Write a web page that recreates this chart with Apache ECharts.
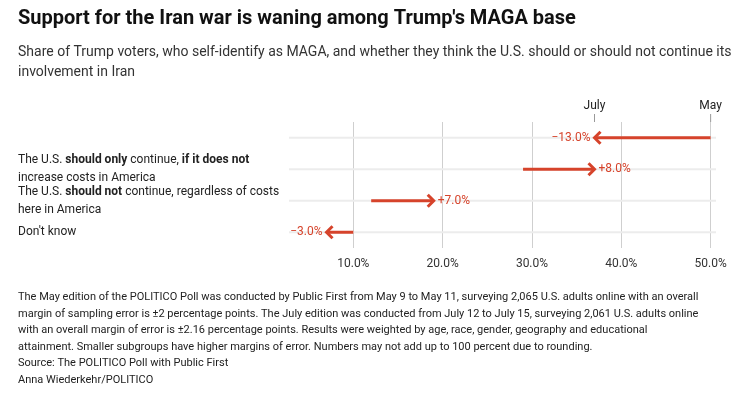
<!DOCTYPE html>
<html>
<head>
<meta charset="utf-8">
<script src="https://cdn.jsdelivr.net/npm/echarts@6/dist/echarts.min.js"></script>
<style>
  html, body { margin: 0; padding: 0; background: #fff; }
  #chart { width: 749px; height: 401px; }
</style>
</head>
<body>
<div id="chart"></div>
<script>
// rows, top to bottom
var categories = [
  '{n|The U.S. }{b|should}{n| continue, }{b|even if}{n| it increases}\n{n|costs in America}',
  '{n|The U.S. }{b|should only}{n| continue, }{b|if it does not}\n{n|increase costs in America}',
  '{n|The U.S. }{b|should not}{n| continue, regardless of costs}\n{n|here in America}',
  "{n|Don't know}"
];
var mayValues = [50, 29, 12, 10];
var julyValues = [37, 37, 19, 7];
var changeLabels = ['\u221213.0%', '+8.0%', '+7.0%', '\u22123.0%'];
var tickValues = [10, 20, 30, 40, 50];
var markerValues = [37, 50];
var markerLabels = ['July', 'May'];

var red = '#d6432b';
var font = 'Roboto, "Noto Sans", sans-serif';

var arrowData = categories.map(function (c, i) {
  return [mayValues[i], i, julyValues[i]];
});
var markerData = markerValues.map(function (v) { return [v, 0]; });

function renderArrow(params, api) {
  var row = api.value(1);
  var p0 = api.coord([api.value(0), row]);
  var p1 = api.coord([api.value(2), row]);
  var dir = p1[0] > p0[0] ? 1 : -1;
  var left = api.coord([2.8, row]);
  var right = api.coord([50.6, row]);
  var h = 6;
  return {
    type: 'group',
    children: [
      { type: 'line', shape: { x1: left[0], y1: p0[1], x2: right[0], y2: p0[1] },
        style: { stroke: '#ececec', lineWidth: 2 }, z2: 1 },
      { type: 'line', shape: { x1: p0[0], y1: p0[1], x2: p1[0] - dir * 1.5, y2: p1[1] },
        style: { stroke: red, lineWidth: 3 }, z2: 5 },
      { type: 'polyline', shape: { points: [[p1[0] - dir * h, p1[1] - h], [p1[0], p1[1]], [p1[0] - dir * h, p1[1] + h]] },
        style: { stroke: red, lineWidth: 3, fill: null }, z2: 5 },
      { type: 'text', x: p1[0] + dir * 4, y: p1[1],
        style: { text: changeLabels[params.dataIndex], fill: red, font: '12px ' + font,
          align: dir > 0 ? 'left' : 'right', verticalAlign: 'middle' }, z2: 6 }
    ]
  };
}

function renderMarker(params, api) {
  var x = api.coord([api.value(0), 0])[0];
  var top = params.coordSys.y;
  return {
    type: 'group',
    children: [
      { type: 'line', shape: { x1: x, y1: top - 8, x2: x, y2: top },
        style: { stroke: '#999', lineWidth: 1 } },
      { type: 'text', x: x, y: top - 10,
        style: { text: markerLabels[params.dataIndex], fill: '#222', font: '12px ' + font, align: 'center', verticalAlign: 'bottom' } }
    ]
  };
}

var chart = echarts.init(document.getElementById('chart'));
var footer = [
  'The May edition of the POLITICO Poll was conducted by Public First from May 9 to May 11, surveying 2,065 U.S. adults online with an overall',
  'margin of sampling error is \u00b12 percentage points. The July edition was conducted from July 12 to July 15, surveying 2,061 U.S. adults online',
  'with an overall margin of error is \u00b12.16 percentage points. Results were weighted by age, race, gender, geography and educational',
  'attainment. Smaller subgroups have higher margins of error. Numbers may not add up to 100 percent due to rounding.',
  'Source: The POLITICO Poll with Public First',
  'Anna Wiederkehr/POLITICO'
];

chart.setOption({
  animation: false,
  grid: { left: 289, right: 33, top: 122, bottom: 153 },
  xAxis: {
    type: 'value', min: 2.8, max: 50.6,
    axisLine: { show: false }, axisTick: { show: false }, splitLine: { show: false },
    axisLabel: { customValues: tickValues, color: '#333', fontSize: 12, fontFamily: font, margin: 10,
      formatter: function (v) { return v.toFixed(1) + '%'; } }
  },
  yAxis: {
    type: 'category', data: categories, inverse: true,
    axisLine: { show: false }, axisTick: { show: false }, splitLine: { show: false },
    axisLabel: {
      align: 'left', margin: 271, lineHeight: 18,
      rich: {
        n: { fontSize: 12, color: '#222', fontFamily: font, lineHeight: 18 },
        b: { fontSize: 12, color: '#222', fontFamily: font, fontWeight: 'bold', lineHeight: 18 }
      }
    }
  },
  series: [
    {
      type: 'custom', data: arrowData, renderItem: renderArrow, z: 5,
      encode: { x: [0, 2], y: 1 },
      markLine: {
        silent: true, symbol: 'none', label: { show: false },
        lineStyle: { color: '#cfcfcf', type: 'solid', width: 1 },
        data: tickValues.map(function (v) { return { xAxis: v }; })
      }
    },
    { type: 'custom', data: markerData, renderItem: renderMarker, encode: { x: 0, y: 1 } }
  ],
  graphic: [
    { type: 'text', left: 18, top: 9,
      style: { text: "Support for the Iran war is waning among Trump's MAGA base", fill: '#111',
        font: 'bold 20px ' + font } },
    { type: 'text', left: 18, top: 42,
      style: { text: 'Share of Trump voters, who self-identify as MAGA, and whether they think the U.S. should or should not continue its\ninvolvement in Iran',
        fill: '#333', font: '14px ' + font, lineHeight: 20 } },
    { type: 'text', left: 18, top: 289,
      style: { text: footer.join('\n'), fill: '#222', font: '11px ' + font, lineHeight: 16.6 } }
  ]
});
</script>
</body>
</html>
